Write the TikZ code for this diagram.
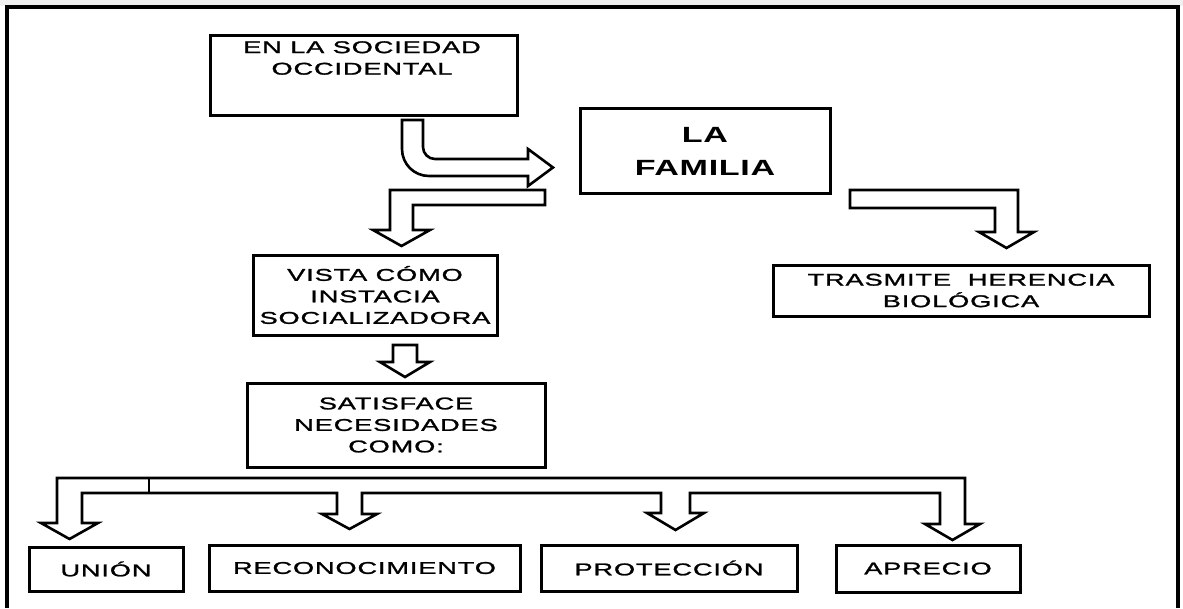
\documentclass[tikz,border=0pt]{standalone}
\usepackage{fontspec}
\newfontfamily\diagfont[FakeStretch=1.6,LetterSpace=5,FakeBold=1.4]{Liberation Sans}
\newfontfamily\diagbold[FakeStretch=1.55,LetterSpace=3]{Liberation Sans Bold}
\begin{document}
\begin{tikzpicture}[x=1pt,y=-1pt,
  box/.style={draw=black,line width=3pt,inner sep=0pt},
  txt/.style={align=center,inner sep=0pt,font=\diagfont\fontsize{17}{21.5}\selectfont},
  big/.style={align=center,inner sep=0pt,font=\diagbold\fontsize{22}{33}\selectfont},
  blockarrow/.style={draw=black,line width=2.6pt,fill=white,line join=miter}]
\useasboundingbox (0,0) rectangle (1183,608);
\fill[black!6] (0,0) rectangle (1183,6);
% frame
\draw[line width=4pt] (7,608) -- (7,7) -- (1178,7) -- (1178,608);
% boxes
\node[box,minimum width=307pt,minimum height=80pt] (soc) at (363.5,75) {};
\node[txt] (soct) at (362,58) {EN LA SOCIEDAD\\OCCIDENTAL};
\node[box,minimum width=250pt,minimum height=85pt,big] (fam) at (705,151) {LA\\FAMILIA};
\node[box,minimum width=376pt,minimum height=51pt,txt] (tra) at (961,290.5) {TRASMITE \ HERENCIA\\BIOLÓGICA};
\node[box,minimum width=244pt,minimum height=80pt,txt] (vis) at (375,295) {VISTA CÓMO\\INSTACIA\\SOCIALIZADORA};
\node[box,minimum width=298pt,minimum height=84pt,txt] (sat) at (396,425) {SATISFACE\\NECESIDADES\\COMO:};
\node[box,minimum width=154pt,minimum height=44pt,txt] (uni) at (106,569) {UNIÓN};
\node[box,minimum width=311pt,minimum height=46pt,txt] (rec) at (364.5,568) {RECONOCIMIENTO};
\node[box,minimum width=256pt,minimum height=46pt,txt] (pro) at (669,568) {PROTECCIÓN};
\node[box,minimum width=184pt,minimum height=47pt,txt] (apr) at (928,568.5) {APRECIO};
% bent arrow
\draw[blockarrow] (402,120) -- (402,149) .. controls (402,164) and (414,176) .. (429,176)
  -- (528,176) -- (528,186) -- (553,167.5) -- (528,149) -- (528,159) -- (435,159)
  .. controls (428.4,159) and (423,153.6) .. (423,147) -- (423,120) -- cycle;
% left branch arrow
\draw[blockarrow] (545,190) -- (390,190) -- (390,230) -- (373,230) -- (401.5,246)
  -- (430,230) -- (413,230) -- (413,205) -- (545,205) -- cycle;
% right branch arrow
\draw[blockarrow] (850,190) -- (1018,190) -- (1018,232) -- (1034,232) -- (1006.5,248)
  -- (979,232) -- (995,232) -- (995,208) -- (850,208) -- cycle;
% small arrow
\draw[blockarrow] (393,345) -- (417,345) -- (417,362) -- (430,362) -- (405,377)
  -- (380,362) -- (393,362) -- cycle;
% bottom branches
\draw[blockarrow] (57,523) -- (57,478) -- (965,478) -- (965,524) -- (980,524) -- (952.5,540)
  -- (925,524) -- (940,524) -- (940,493) -- (690,493) -- (690,513) -- (704,513)
  -- (675.5,530) -- (647,513) -- (661,513) -- (661,493) -- (362,493) -- (362,514)
  -- (377,514) -- (349.5,529) -- (322,514) -- (337,514) -- (337,493) -- (82,493)
  -- (82,523) -- (98,523) -- (69.5,539) -- (41,523) -- cycle;
\draw[line width=2.6pt] (149,478) -- (149,493);
\end{tikzpicture}
\end{document}
